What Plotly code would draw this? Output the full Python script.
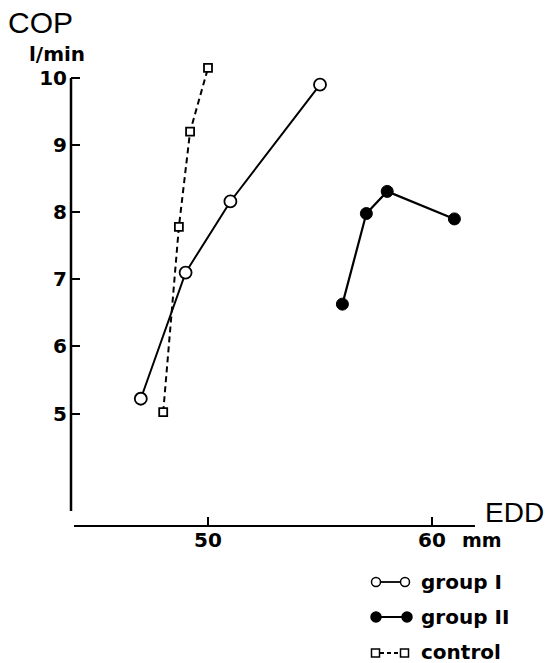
import plotly.graph_objects as go

# ---- data ----
g1_edd = [47.0, 49.0, 51.0, 55.0]
g1_cop = [5.22, 7.10, 8.16, 9.90]

g2_edd = [56.0, 57.07, 58.0, 61.0]
g2_cop = [6.63, 7.98, 8.31, 7.90]

ctl_edd = [48.0, 48.7, 49.2, 50.0]
ctl_cop = [5.02, 7.78, 9.20, 10.15]

y_ticks = [5, 6, 7, 8, 9, 10]
x_ticks = [50, 60]

# ---- layout geometry (reference pixels) ----
W, H = 546, 663
L, R, T, B = 71, 475, 55, 526   # plot area edges in reference pixels
PW, PH = R - L, B - T


def fx(px):
    return (px - L) / PW


def fy(py):
    return (B - py) / PH


# axis ranges so that 50->208px, 60->432px ; 10->78px, 5->413.5px
xpu = (432 - 208) / 10.0
ypu = (413.5 - 78) / 5.0
x_range = [50 - (208 - L) / xpu, 60 + (R - 432) / xpu]
y_range = [5 - (B - 413.5) / ypu, 10 + (78 - T) / ypu]

BOLD = "DejaVu Sans"
fig = go.Figure()

fig.add_trace(go.Scatter(
    x=ctl_edd, y=ctl_cop, mode="lines+markers", name="control",
    line=dict(color="black", width=2, dash="6px,4px"),
    marker=dict(symbol="square", size=8, color="white",
                line=dict(color="black", width=1.8)),
    cliponaxis=False))
fig.add_trace(go.Scatter(
    x=g1_edd, y=g1_cop, mode="lines+markers", name="group I",
    line=dict(color="black", width=2),
    marker=dict(symbol="circle", size=12, color="white",
                line=dict(color="black", width=1.8)),
    cliponaxis=False))
fig.add_trace(go.Scatter(
    x=g2_edd, y=g2_cop, mode="lines+markers", name="group II",
    line=dict(color="black", width=2.2),
    marker=dict(symbol="circle", size=12, color="black",
                line=dict(color="black", width=1)),
    cliponaxis=False))

shapes = [
    # y axis line (from 10 down)
    dict(type="line", xref="paper", yref="paper", x0=0, x1=0,
         y0=fy(78), y1=fy(511), line=dict(color="black", width=2.5)),
    # x axis line
    dict(type="line", xref="paper", yref="paper", x0=fx(74), x1=1,
         y0=0, y1=0, line=dict(color="black", width=2.2)),
]


# legend symbols
def circ(cx, cy, r, fill):
    return dict(type="circle", xref="paper", yref="paper",
                xsizemode="pixel", ysizemode="pixel",
                xanchor=fx(cx), yanchor=fy(cy), x0=-r, x1=r, y0=-r, y1=r,
                fillcolor=fill, line=dict(color="black", width=1.5))


def sq(cx, cy, r):
    return dict(type="rect", xref="paper", yref="paper",
                xsizemode="pixel", ysizemode="pixel",
                xanchor=fx(cx), yanchor=fy(cy), x0=-r, x1=r, y0=-r, y1=r,
                fillcolor="white", line=dict(color="black", width=1.5))


def hline(x0, x1, y, dash="solid", w=1.8):
    return dict(type="line", xref="paper", yref="paper",
                x0=fx(x0), x1=fx(x1), y0=fy(y), y1=fy(y),
                line=dict(color="black", width=w, dash=dash))


shapes += [
    hline(380, 401, 582), circ(376, 582, 4.5, "white"), circ(405, 582, 4.5, "white"),
    hline(380, 403, 617, w=2), circ(376, 617, 5, "black"), circ(407, 617, 5, "black"),
    hline(380, 400, 653, dash="4px,3px"), sq(375.5, 653, 4), sq(404.5, 653, 4),
]


def ann(text, cx, cy, size, family, xanchor="center", bold=False):
    return dict(text=("<b>%s</b>" % text) if bold else text,
                xref="paper", yref="paper", x=fx(cx), y=fy(cy),
                xanchor=xanchor, yanchor="middle", showarrow=False,
                borderpad=0,
                font=dict(family=family, size=size, color="black"))


annotations = [
    ann("COP", 40.5, 22, 30, "Liberation Sans"),
    ann("l/min", 57, 54, 20, BOLD, bold=True),
    ann("EDD", 514.5, 512, 28, "Liberation Sans"),
    ann("mm", 482.5, 540, 19, BOLD, bold=True),
    ann("group I", 420, 582, 20, BOLD, xanchor="left", bold=True),
    ann("group II", 420, 617, 20, BOLD, xanchor="left", bold=True),
    ann("control", 420, 652, 20, BOLD, xanchor="left", bold=True),
]

fig.update_layout(
    width=W, height=H,
    margin=dict(l=L, r=W - R, t=T, b=H - B),
    paper_bgcolor="white", plot_bgcolor="white",
    showlegend=False,
    shapes=shapes, annotations=annotations,
    xaxis=dict(range=x_range, showgrid=False, zeroline=False, showline=False,
               tickmode="array", tickvals=x_ticks,
               ticktext=["<b>%d</b>" % v for v in x_ticks],
               ticks="inside", ticklen=9, tickwidth=2, tickcolor="black",
               tickfont=dict(family=BOLD, size=20, color="black")),
    yaxis=dict(range=y_range, showgrid=False, zeroline=False, showline=False,
               tickmode="array", tickvals=y_ticks,
               ticktext=["<b>%d</b>" % v for v in y_ticks],
               ticks="inside", ticklen=9, tickwidth=2, tickcolor="black",
               ticklabelstandoff=3,
               tickfont=dict(family=BOLD, size=20, color="black")),
)

# remove the default 8px page margin so the figure fills the window exactly
fig.write_html(
    "out.html",
    config={"displayModeBar": False},
    post_script="document.body.style.margin='0';"
                "document.documentElement.style.overflow='hidden';"
                "document.body.style.overflow='hidden';")
